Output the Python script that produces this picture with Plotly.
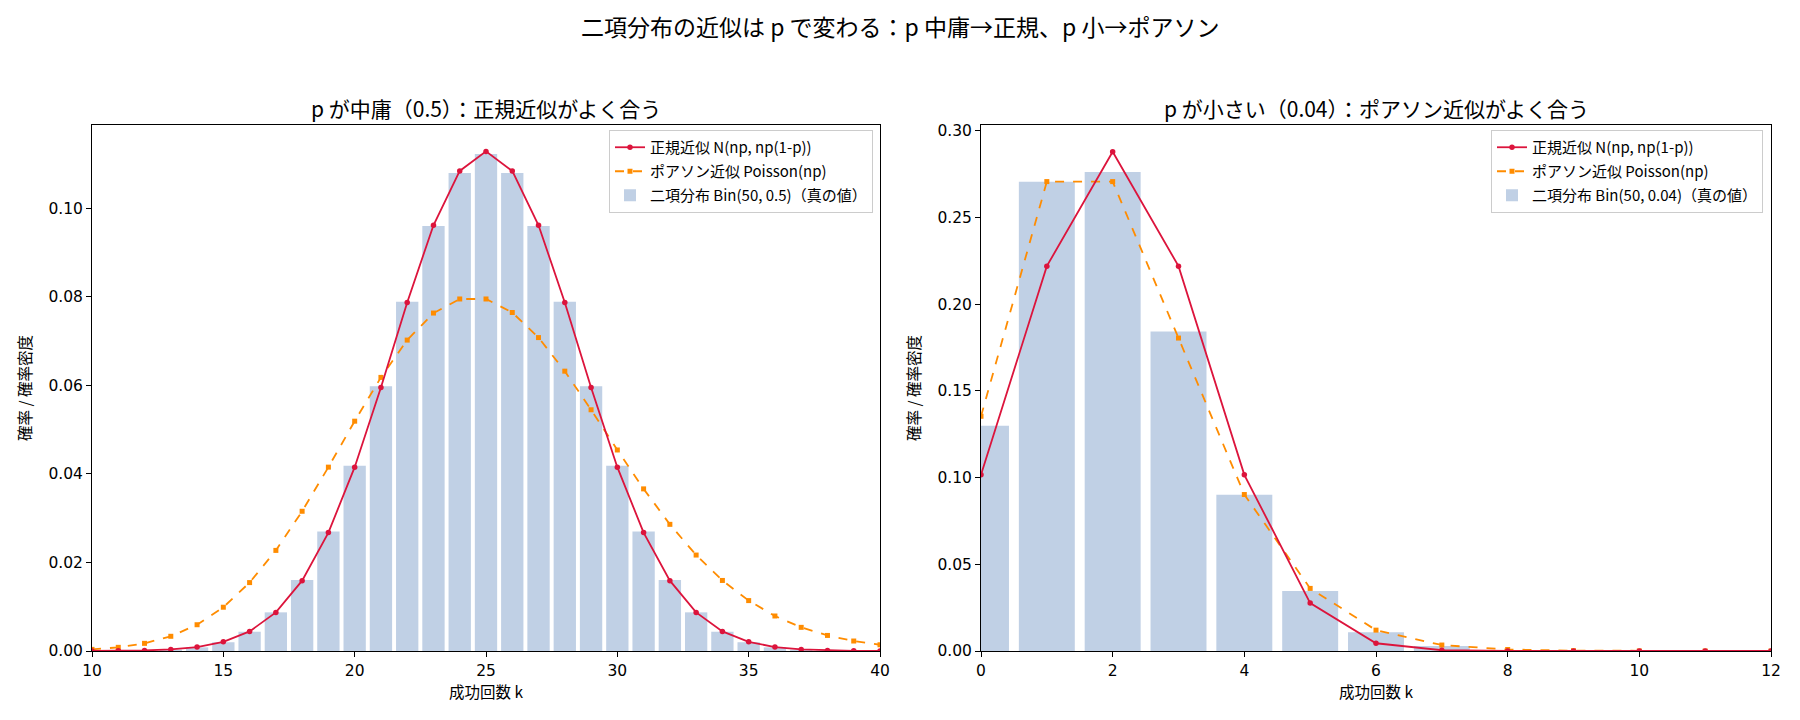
import plotly.graph_objects as go

# ---- data: left panel (n=50, p=0.5) ----
k_left = list(range(10, 41))
binom_left = [0.0000091, 0.0000322, 0.000105, 0.000308, 0.000820, 0.001980, 0.004353, 0.008732,
              0.016031, 0.027011, 0.041859, 0.059803, 0.078862, 0.095961, 0.107957, 0.112275,
              0.107957, 0.095961, 0.078862, 0.059803, 0.041859, 0.027011, 0.016031, 0.008732,
              0.004353, 0.001980, 0.000820, 0.000308, 0.000105, 0.0000322, 0.0000091]
normal_left = [0.0000139, 0.0000444, 0.000131, 0.000356, 0.000892, 0.002067, 0.004419, 0.008723,
               0.01589, 0.02674, 0.04151, 0.05950, 0.07873, 0.09616, 0.10842, 0.11284,
               0.10842, 0.09616, 0.07873, 0.05950, 0.04151, 0.02674, 0.01589, 0.008723,
               0.004419, 0.002067, 0.000892, 0.000356, 0.000131, 0.0000444, 0.0000139]
poisson_left = [0.000365, 0.000829, 0.001728, 0.003323, 0.005933, 0.009889, 0.015451, 0.022722,
                0.031559, 0.041525, 0.051906, 0.061793, 0.070220, 0.076326, 0.079506, 0.079506,
                0.076448, 0.070785, 0.063201, 0.054484, 0.045403, 0.036615, 0.028606, 0.021671,
                0.015935, 0.011382, 0.007904, 0.005341, 0.003514, 0.002253, 0.001408]

# ---- data: right panel (n=50, p=0.04) ----
k_right = list(range(0, 13))
binom_right = [0.12989, 0.27060, 0.27623, 0.18416, 0.09016, 0.03456, 0.01080, 0.002829,
               0.000634, 0.000123, 0.0000211, 0.0000032, 0.00000043]
normal_right = [0.10159, 0.22191, 0.28791, 0.22191, 0.10159, 0.02763, 0.004463, 0.000428,
                0.0000244, 0.00000083, 0.000000017, 0.0, 0.0]
poisson_right = [0.135335, 0.270671, 0.270671, 0.180447, 0.090224, 0.036089, 0.012030, 0.003437,
                 0.000859, 0.000191, 0.0000382, 0.00000694, 0.00000116]

title_text = "二項分布の近似は p で変わる：p 中庸→正規、p 小→ポアソン"
left_title = "p が中庸（0.5）：正規近似がよく合う"
right_title = "p が小さい（0.04）：ポアソン近似がよく合う"
name_normal = "正規近似 N(np, np(1-p))"
name_poisson = "ポアソン近似 Poisson(np)"
name_binom_left = "二項分布 Bin(50, 0.5)（真の値）"
name_binom_right = "二項分布 Bin(50, 0.04)（真の値）"
xlabel = "成功回数 k"
ylabel = "確率 / 確率密度"

FONT = "Noto Sans CJK JP"
TICKFONT = "DejaVu Sans"
RED = "#DC143C"
ORANGE = "#FF8C00"
BARC = "rgba(176,196,222,0.8)"

# pixel layout of plot area
W, H = 1800, 720
ML, MR, MT, MB = 92, 29, 125, 69
PW, PH = W - ML - MR, H - MT - MB


def px_x(x):
    return (x - ML) / PW


def px_y(y):
    return (H - MB - y) / PH


fig = go.Figure()


def add_panel(k, binom, normal, poisson, xa, ya, legend, bname, tag):
    fig.add_trace(go.Bar(x=k, y=binom, width=0.85, marker=dict(color=BARC, line=dict(width=0)),
                         name=bname, xaxis=xa, yaxis=ya, legend=legend, legendrank=3,
                         legendgroup=tag + "b"))
    fig.add_trace(go.Scatter(x=k, y=poisson, mode="lines+markers", name=name_poisson,
                             line=dict(color=ORANGE, width=1.8, dash="dash"),
                             marker=dict(symbol="square", size=5, color=ORANGE),
                             xaxis=xa, yaxis=ya, legend=legend, legendrank=2,
                             legendgroup=tag + "p"))
    fig.add_trace(go.Scatter(x=k, y=normal, mode="lines+markers", name=name_normal,
                             line=dict(color=RED, width=1.8),
                             marker=dict(symbol="circle", size=5.5, color=RED),
                             xaxis=xa, yaxis=ya, legend=legend, legendrank=1,
                             legendgroup=tag + "n"))


add_panel(k_left, binom_left, normal_left, poisson_left, "x", "y", "legend", name_binom_left, "L")
add_panel(k_right, binom_right, normal_right, poisson_right, "x2", "y2", "legend2", name_binom_right, "R")

axis_common = dict(showline=True, linecolor="black", linewidth=1, mirror=True, ticks="outside",
                   ticklen=5, tickcolor="black", showgrid=False, zeroline=False, automargin=False,
                   tickfont=dict(size=15.5, color="black", family=TICKFONT))
xt = dict(text=xlabel, font=dict(size=15.5), standoff=8)
yt = dict(text=ylabel, font=dict(size=15.5), standoff=12)

legend_common = dict(yanchor="top", xanchor="right", bgcolor="rgba(255,255,255,0.8)",
                     bordercolor="#cccccc", borderwidth=1, font=dict(size=15),
                     tracegroupgap=1.5, itemwidth=30, traceorder="grouped")

fig.update_layout(
    width=W, height=H,
    margin=dict(l=ML, r=MR, t=MT, b=MB),
    paper_bgcolor="white", plot_bgcolor="white",
    font=dict(family=FONT, color="black"),
    barmode="overlay",
    xaxis=dict(domain=[0, px_x(880)], range=[10, 40], dtick=5, anchor="y", title=xt, **axis_common),
    yaxis=dict(domain=[0, 1], range=[0, 0.1188], dtick=0.02, tickformat=".2f", anchor="x",
               title=yt, **axis_common),
    xaxis2=dict(domain=[px_x(981), 1], range=[0, 12], dtick=2, anchor="y2", title=xt, **axis_common),
    yaxis2=dict(domain=[0, 1], range=[0, 0.3033], dtick=0.05, tickformat=".2f", anchor="x2",
                title=yt, **axis_common),
    legend=dict(x=px_x(873), y=px_y(130), **legend_common),
    legend2=dict(x=px_x(1763), y=px_y(130), **legend_common),
    annotations=[
        dict(text=title_text, x=px_x(900), y=px_y(26), xref="paper", yref="paper",
             xanchor="center", yanchor="middle", showarrow=False, font=dict(size=23)),
        dict(text=left_title, x=px_x((92 + 880) / 2), y=px_y(108), xref="paper", yref="paper",
             xanchor="center", yanchor="middle", showarrow=False, font=dict(size=21)),
        dict(text=right_title, x=px_x((981 + 1771) / 2), y=px_y(108), xref="paper", yref="paper",
             xanchor="center", yanchor="middle", showarrow=False, font=dict(size=21)),
    ],
)

fig.write_html("out.html")
